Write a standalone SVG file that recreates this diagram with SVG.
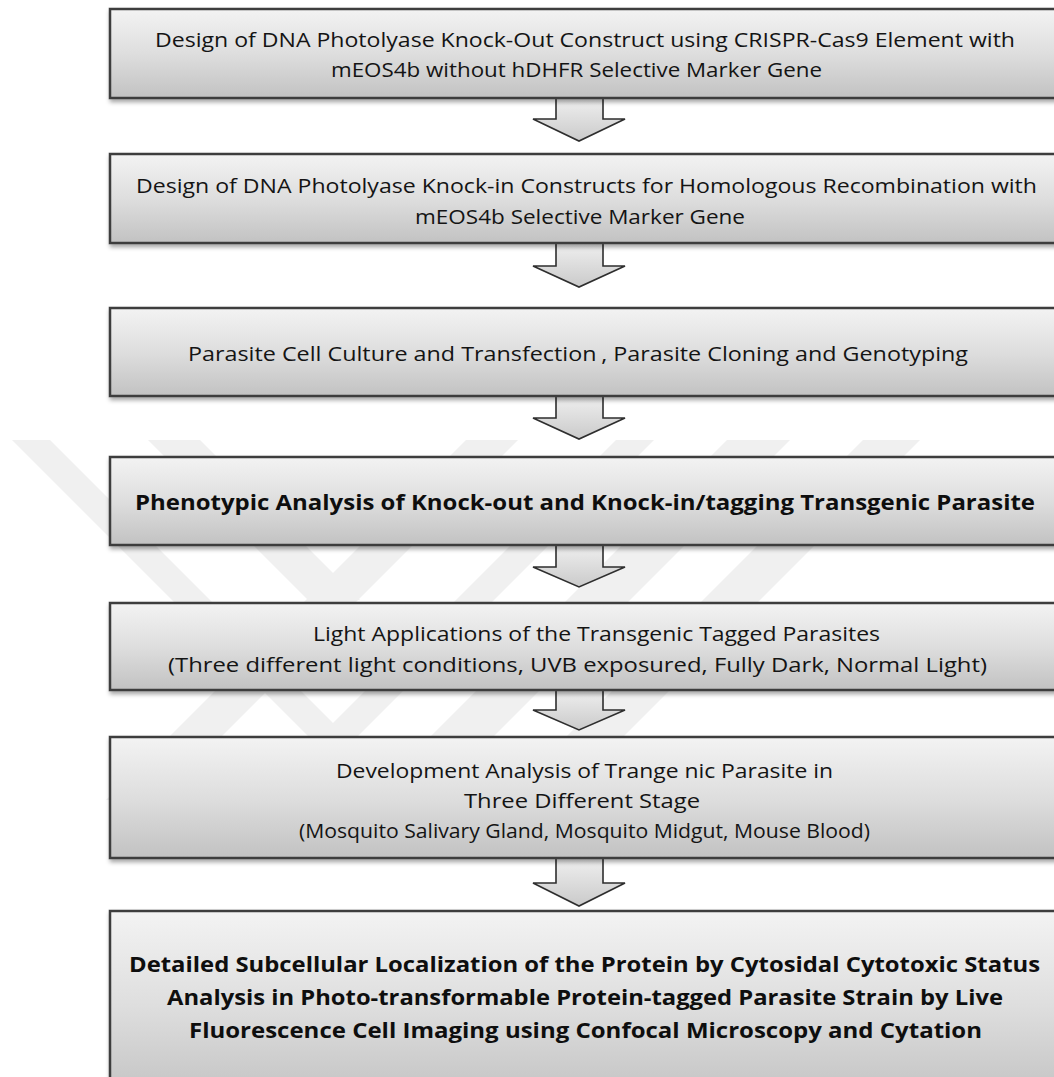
<svg xmlns="http://www.w3.org/2000/svg" width="1054" height="1077" viewBox="0 0 1054 1077">
<defs>
<linearGradient id="gBox" x1="0" y1="0" x2="0" y2="1">
<stop offset="0" stop-color="#f3f3f3"/>
<stop offset="0.5" stop-color="#dedede"/>
<stop offset="1" stop-color="#c2c2c2"/>
</linearGradient>
<linearGradient id="gArr" x1="0" y1="0" x2="0" y2="1">
<stop offset="0" stop-color="#f2f2f2"/>
<stop offset="1" stop-color="#cacaca"/>
</linearGradient>
<filter id="sh" x="-5%" y="-10%" width="110%" height="130%">
<feDropShadow dx="1" dy="3" stdDeviation="2" flood-color="#000" flood-opacity="0.35"/>
</filter>
<clipPath id="wm"><rect x="0" y="440" width="1054" height="360"/></clipPath>
</defs>
<style>
.box{fill:url(#gBox);stroke:#3c3c3c;stroke-width:2.5;filter:url(#sh)}
.arr{fill:url(#gArr);stroke:#2e2e2e;stroke-width:1.6;stroke-linejoin:miter}
.t{font-family:"Open Sans","Liberation Sans",sans-serif;font-size:19.5px;fill:#141414}
.b{font-family:"Open Sans","Liberation Sans",sans-serif;font-size:21.5px;font-weight:bold;fill:#0e0e0e}
.w{fill:#f0f0f0}
</style>
<rect width="1054" height="1077" fill="#ffffff"/>
<g id="watermark" clip-path="url(#wm)">
<polygon class="w" points="12,440 50,440 333,723 616,440 654,440 333,761"/>
<polygon class="w" points="148,440 200,440 360,600 308,600"/>
<polygon class="w" points="466,440 518,440 158,800 106,800"/>
<polygon class="w" points="727,440 790,440 430,800 367,800"/>
<polygon class="w" points="863,440 920,440 560,800 503,800"/>
</g>
<g id="connectors">
<path class="arr" d="M556,95 V119 H533 L579,141 L625,119 H603 V95"/>
<path class="arr" d="M556,240 V266 H533 L579,287 L625,266 H603 V240"/>
<path class="arr" d="M556,393 V418 H533 L579,439 L625,418 H603 V393"/>
<path class="arr" d="M556,542 V567 H533 L579,587 L625,567 H603 V542"/>
<path class="arr" d="M556,687 V710 H533 L579,730 L625,710 H603 V687"/>
<path class="arr" d="M556,855 V883 H533 L579,906 L625,883 H603 V855"/>
</g>
<g id="node1">
<rect class="box" x="110" y="9" width="960" height="89"/>
<text class="t" x="155" y="47" textLength="860" lengthAdjust="spacingAndGlyphs">Design of DNA Photolyase Knock-Out Construct using CRISPR-Cas9 Element with</text>
<text class="t" x="331" y="77" textLength="491" lengthAdjust="spacingAndGlyphs">mEOS4b without hDHFR Selective Marker Gene</text>
</g>
<g id="node2">
<rect class="box" x="110" y="154" width="960" height="89"/>
<text class="t" x="136" y="193" textLength="901" lengthAdjust="spacingAndGlyphs">Design of DNA Photolyase Knock-in Constructs for Homologous Recombination with</text>
<text class="t" x="415" y="224" textLength="330" lengthAdjust="spacingAndGlyphs">mEOS4b Selective Marker Gene</text>
</g>
<g id="node3">
<rect class="box" x="110" y="308" width="960" height="88"/>
<text class="t" x="188" y="361" textLength="780" lengthAdjust="spacingAndGlyphs">Parasite Cell Culture and Transfection<tspan dx="4">, Parasite Cloning and Genotyping</tspan></text>
</g>
<g id="node4">
<rect class="box" x="110" y="457" width="960" height="88"/>
<text class="b" x="135" y="510" textLength="900" lengthAdjust="spacingAndGlyphs">Phenotypic Analysis of Knock-out and Knock-in/tagging Transgenic Parasite</text>
</g>
<g id="node5">
<rect class="box" x="110" y="603" width="960" height="87"/>
<text class="t" x="313" y="641" textLength="567" lengthAdjust="spacingAndGlyphs">Light Applications of the Transgenic Tagged Parasites</text>
<text class="t" x="168" y="672" textLength="819" lengthAdjust="spacingAndGlyphs">(Three different light conditions, UVB exposured, Fully Dark, Normal Light)</text>
</g>
<g id="node6">
<rect class="box" x="110" y="737" width="960" height="121"/>
<text class="t" x="336" y="778" textLength="497" lengthAdjust="spacingAndGlyphs">Development Analysis of Trange<tspan dx="5">nic Parasite in</tspan></text>
<text class="t" x="464" y="808" textLength="236" lengthAdjust="spacingAndGlyphs">Three Different Stage</text>
<text class="t" x="299" y="838" textLength="571" lengthAdjust="spacingAndGlyphs">(Mosquito Salivary Gland, Mosquito Midgut, Mouse Blood)</text>
</g>
<g id="node7">
<rect class="box" x="110" y="911" width="960" height="190"/>
<text class="b" x="129" y="972" textLength="911" lengthAdjust="spacingAndGlyphs">Detailed Subcellular Localization of the Protein by Cytosidal Cytotoxic Status</text>
<text class="b" x="167" y="1005" textLength="836" lengthAdjust="spacingAndGlyphs">Analysis in Photo-transformable Protein-tagged Parasite Strain by Live</text>
<text class="b" x="189" y="1038" textLength="793" lengthAdjust="spacingAndGlyphs">Fluorescence Cell Imaging using Confocal Microscopy and Cytation</text>
</g>
</svg>
